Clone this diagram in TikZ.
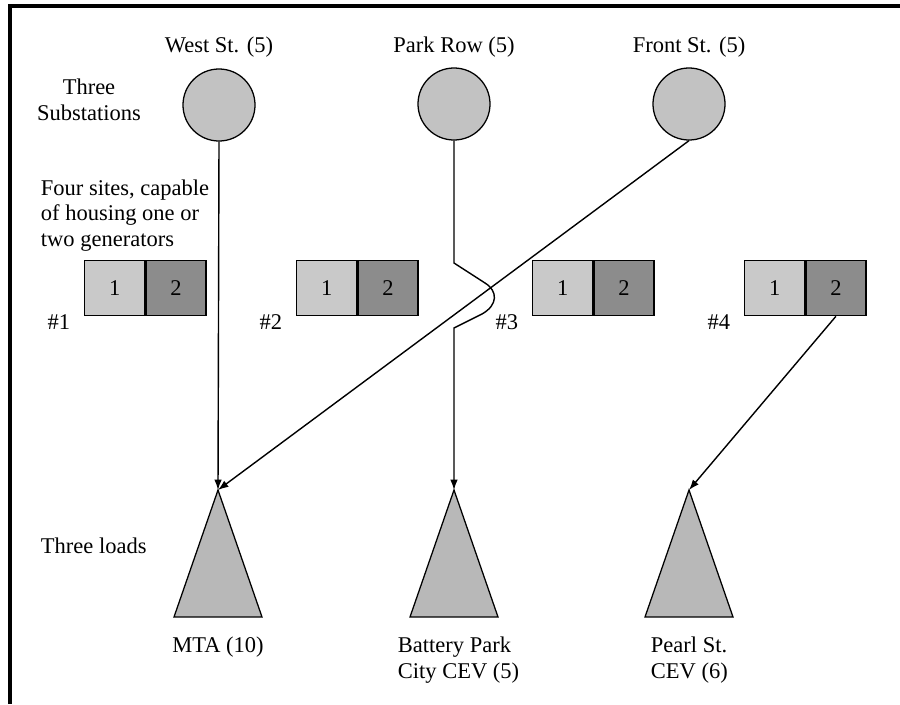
\documentclass[tikz,border=0pt]{standalone}
\usepackage{fontspec}
\setmainfont{Liberation Serif}
\usepackage{tikz}
\usetikzlibrary{arrows.meta}

\definecolor{subgray}{gray}{0.76}
\definecolor{lightcell}{gray}{0.79}
\definecolor{darkcell}{gray}{0.55}
\definecolor{loadgray}{gray}{0.72}

\begin{document}
\begin{tikzpicture}[x = 0.025cm, y = -0.025cm,
    every node/.style = {font = \fontsize{16}{17.8}\selectfont},
    substation/.style = {circle, draw, fill = subgray, line width = 0.9pt,
        minimum size = 1.8cm, inner sep = 0},
    cell/.style = {rectangle, draw, line width = 0.9pt, anchor = north west,
        minimum width = 1.5cm, minimum height = 1.375cm, inner sep = 0},
    feed/.style = {-{Latex[length = 2.6mm, width = 1.9mm]}, line width = 1pt}]
    %% frame
    \useasboundingbox (0, 0) rectangle (900, 704);
    \draw[line width = 3pt] (10, 704) -- (10, 6) -- (900, 6);

    %% substations
    \node[substation] (west) at (219, 105) {};
    \node[substation] (park) at (454, 104) {};
    \node[substation] (front) at (689, 104) {};
    \node[anchor = base] (westlbl) at (219, 52) {West St. (5)};
    \node[anchor = base] (parklbl) at (454, 52) {Park Row (5)};
    \node[anchor = base] (frontlbl) at (689, 52) {Front St. (5)};
    \node[anchor = base, align = center] (sublbl) at (89, 120)
        {Three\\Substations};

    %% sites
    \node[anchor = base west, align = left] (sitelbl) at (36, 246)
        {Four sites, capable\\of housing one or\\two generators};
    \foreach \i/\x in {1/84, 2/296, 3/532, 4/744} {
        \node[cell, fill = lightcell] (site\i-1) at (\x, 260) {1};
        \node[cell, fill = darkcell] (site\i-2) at (site\i-1.north east) {2};
        \node[anchor = base east] (tag\i) at (\x - 9, 329) {\#\i};
    }

    %% loads
    \foreach \n/\x in {mta/218, bpc/454, pearl/689} {
        \draw[fill = loadgray, line width = 0.9pt]
            (\x, 490) -- (\x + 44, 617) -- (\x - 44, 617) -- cycle;
        \coordinate (\n) at (\x, 490);
    }
    \node[anchor = base west] (loadlbl) at (36, 553) {Three loads};
    \node[anchor = base] (mtalbl) at (218, 652) {MTA (10)};
    \node[anchor = base west, align = left] (bpclbl) at (393, 678)
        {Battery Park\\City CEV (5)};
    \node[anchor = base west, align = left] (pearllbl) at (646, 678)
        {Pearl St.\\CEV (6)};

    %% feeds
    \draw[feed] (west.south) -- (mta);
    \draw[feed] (front.south) -- (mta);
    \draw[feed] (park.south) -- (454, 263) -- (485, 283)
        .. controls (498, 291) and (498, 305) .. (482, 314)
        -- (454, 328) -- (bpc);
    \draw[feed] (site4-2.south) -- (pearl);
\end{tikzpicture}
\end{document}
